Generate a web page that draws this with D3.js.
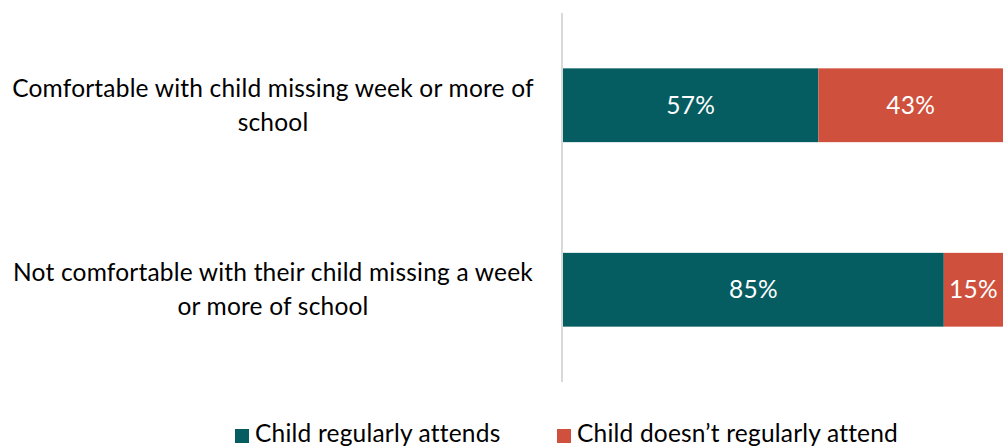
<!DOCTYPE html>
<html>
<head>
<meta charset="utf-8">
<script src="https://cdn.jsdelivr.net/npm/d3@7"></script>
<style>
  html, body { margin: 0; padding: 0; background: #fff; }
  svg { display: block; font-family: Lato, "Open Sans", sans-serif; letter-spacing: 0.2px; }
</style>
</head>
<body>
<svg id="chart" width="1003" height="446"></svg>
<script>
// Attendance by parental comfort with a child missing school
const categories = [
  ["Comfortable with child missing week or more of", "school"],
  ["Not comfortable with their child missing a week", "or more of school"]
];
const categoryKeys = ["comfortable", "notComfortable"];
const seriesNames = ["Child regularly attends", "Child doesn\u2019t regularly attend"];
const attends = [0.57, 0.85];
const notAttends = [0.43, 0.15];
const colors = ["#055C61", "#CF513D"];

const svg = d3.select("#chart");
const fontSize = 24.5;

const x = d3.scaleLinear().domain([0, 1]).range([563, 1011]);
const y = d3.scaleBand().domain(categoryKeys).range([13, 382])
  .paddingInner(0.6).paddingOuter(0.3);

const rows = categoryKeys.map((k, i) => ({ key: k, attends: attends[i], notAttends: notAttends[i] }));
const stack = d3.stack().keys(["attends", "notAttends"])(rows);

// vertical axis line
svg.append("line")
  .attr("x1", x(0) - 1).attr("x2", x(0) - 1)
  .attr("y1", y.range()[0]).attr("y2", y.range()[1])
  .attr("stroke", "#d9d9d9").attr("stroke-width", 2);

// stacked bars
const layers = svg.selectAll("g.layer").data(stack).join("g")
  .attr("class", "layer")
  .attr("fill", (d, i) => colors[i]);

layers.selectAll("rect").data(d => d).join("rect")
  .attr("x", d => x(d[0]))
  .attr("width", d => x(d[1]) - x(d[0]))
  .attr("y", d => y(d.data.key))
  .attr("height", y.bandwidth());

// value labels
layers.selectAll("text").data(d => d).join("text")
  .attr("x", d => (x(d[0]) + Math.min(x(d[1]), 1003)) / 2)
  .attr("y", d => y(d.data.key) + y.bandwidth() / 2)
  .attr("dy", "0.35em")
  .attr("text-anchor", "middle")
  .attr("fill", "#fff")
  .attr("font-size", fontSize)
  .text(d => Math.round((d[1] - d[0]) * 100) + "%");

// category labels
const catX = 273;
categoryKeys.forEach((k, i) => {
  const cy = y(k) + y.bandwidth() / 2;
  const t = svg.append("text")
    .attr("text-anchor", "middle")
    .attr("font-size", fontSize)
    .attr("fill", "#000");
  categories[i].forEach((line, j) => {
    t.append("tspan")
      .attr("x", catX)
      .attr("y", cy - 17 + j * 34)
      .attr("dy", "0.35em")
      .text(line);
  });
});

// legend
const legendX = [235, 557];
seriesNames.forEach((name, i) => {
  const g = svg.append("g").attr("transform", `translate(${legendX[i]},0)`);
  g.append("rect").attr("x", 0).attr("y", 429).attr("width", 14).attr("height", 14)
    .attr("fill", colors[i]);
  g.append("text").attr("x", 20).attr("y", 442)
    .attr("font-size", fontSize).attr("fill", "#000")
    .text(name);
});
</script>
</body>
</html>
